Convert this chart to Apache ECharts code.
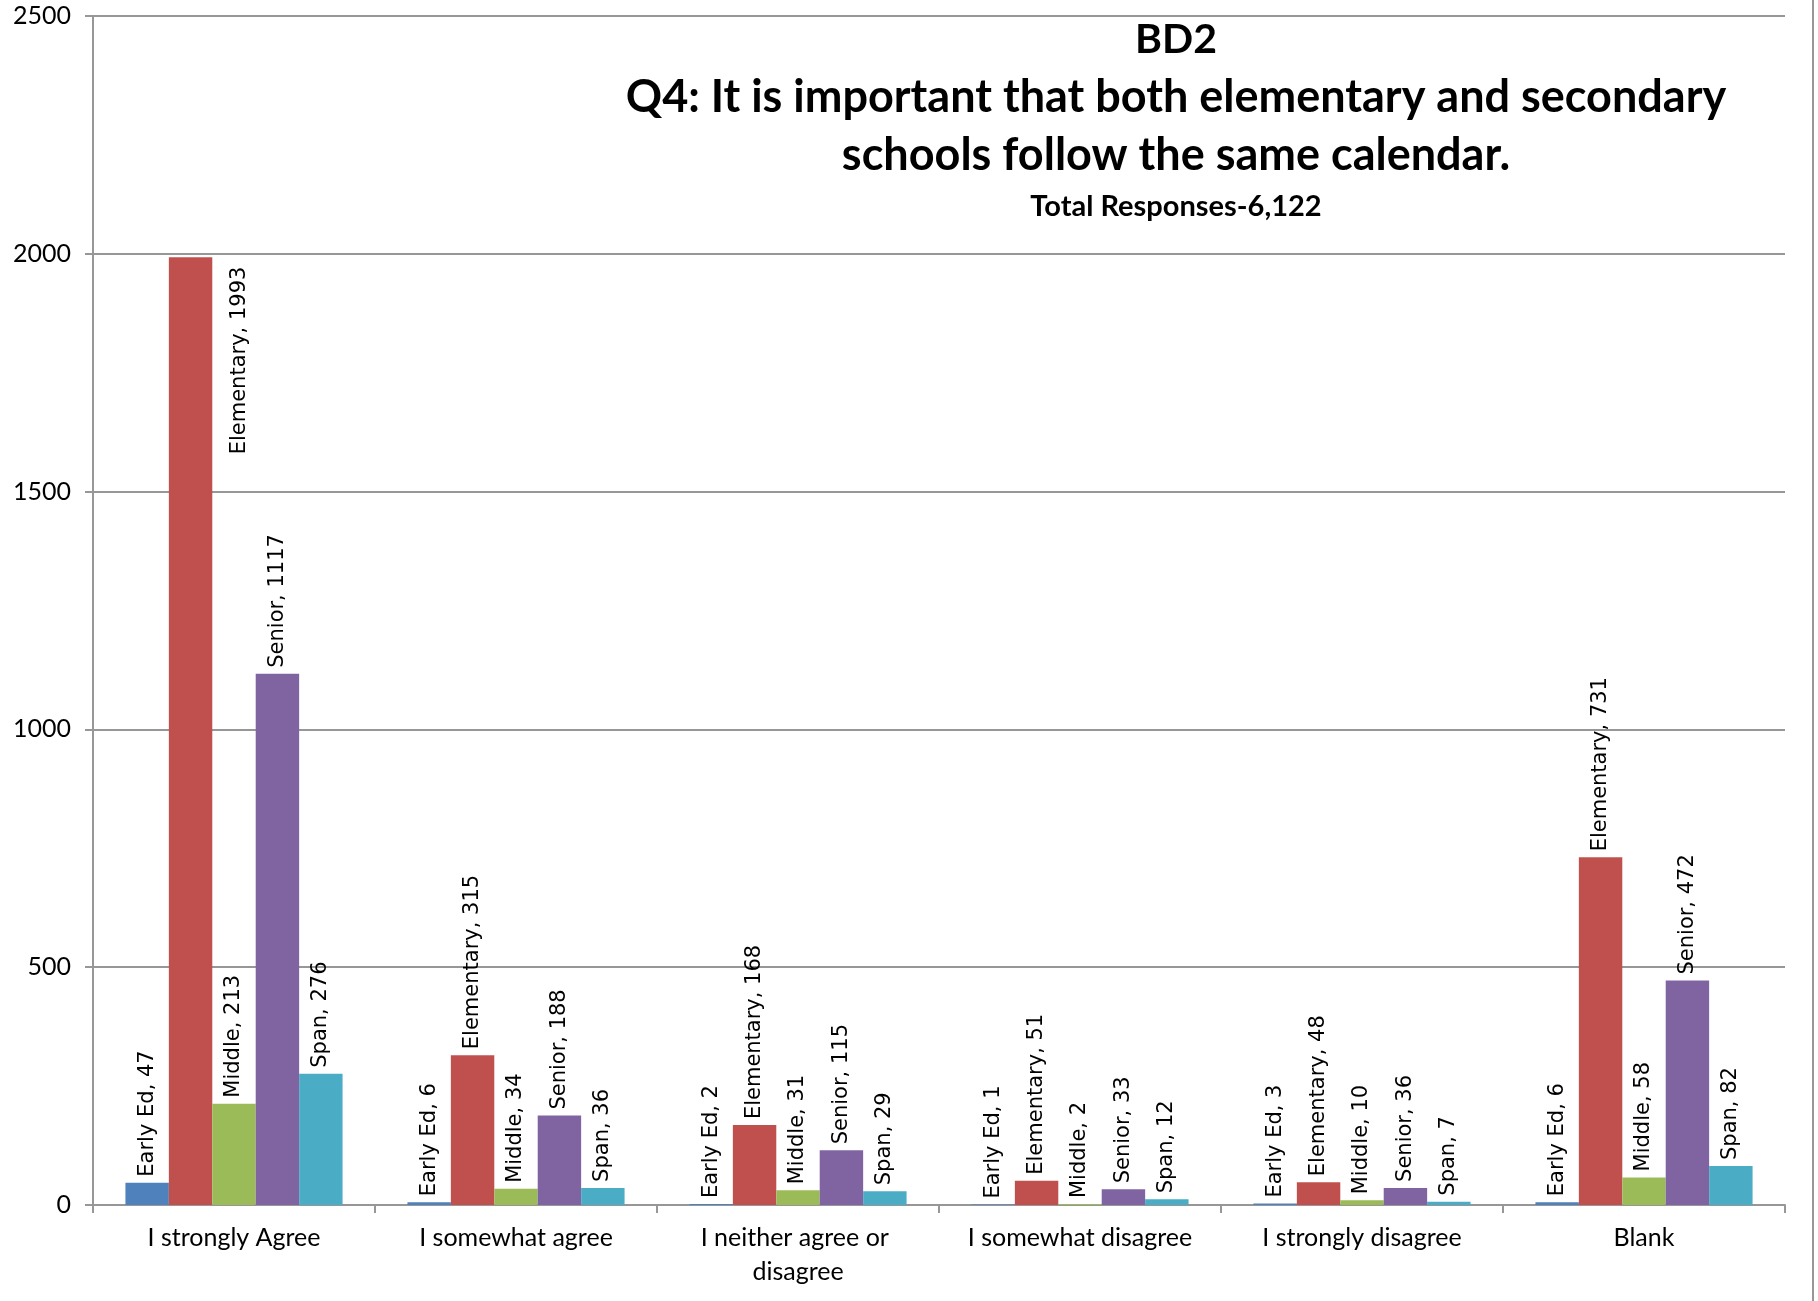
<!DOCTYPE html>
<html>
<head>
<meta charset="utf-8">
<script src="https://cdn.jsdelivr.net/npm/echarts@6/dist/echarts.min.js"></script>
<style>
html,body{margin:0;padding:0;background:#fff;}
#chart{width:1818px;height:1301px;}
</style>
</head>
<body>
<div id="chart"></div>
<script>
var categories = ['I strongly Agree', 'I somewhat agree', 'I neither agree or disagree', 'I somewhat disagree', 'I strongly disagree', 'Blank'];
var seriesNames = ['Early Ed', 'Elementary', 'Middle', 'Senior', 'Span'];
var earlyEd = [47, 6, 2, 1, 3, 6];
var elementary = [1993, 315, 168, 51, 48, 731];
var middle = [213, 34, 31, 2, 10, 58];
var senior = [1117, 188, 115, 33, 36, 472];
var span = [276, 36, 29, 12, 7, 82];
var colors = ['#4F81BD', '#C0504D', '#9BBB59', '#8064A2', '#4BACC6'];
var yTicks = [0, 500, 1000, 1500, 2000, 2500];
var titleLines = ['BD2', 'Q4: It is important that both elementary and secondary', 'schools follow the same calendar.'];
var subTitle = 'Total Responses-6,122';

var allValues = [earlyEd, elementary, middle, senior, span];
var gridCol = '#979797';
var calibri = 'Lato, "Open Sans", sans-serif';

var series = allValues.map(function (vals, si) {
  return {
    name: seriesNames[si],
    type: 'bar',
    barGap: '0%',
    barCategoryGap: '23%',
    itemStyle: { color: colors[si] },
    label: {
      show: true,
      position: 'top',
      distance: 6,
      rotate: 90,
      align: 'left',
      verticalAlign: 'middle',
      fontFamily: '"DejaVu Sans", Verdana, sans-serif',
      fontSize: 21,
      color: '#000',
      formatter: function (p) { return p.seriesName + ', ' + p.value; }
    },
    data: vals.map(function (v, i) {
      var item = { value: v };
      // label that Excel pushed beside the tallest bar
      if (si === 1 && i === 0) {
        item.label = { position: ['138%', '1%'], align: 'right', verticalAlign: 'top' };
      }
      return item;
    })
  };
});

var chart = echarts.init(document.getElementById('chart'));
chart.setOption({
  animation: false,
  backgroundColor: '#fff',
  title: [
    { text: titleLines[0], left: 1171, top: 14, textAlign: 'center',
      textStyle: { fontFamily: calibri, fontWeight: 'bold', fontSize: 41, color: '#000' } },
    { text: titleLines[1], left: 1171, top: 70, textAlign: 'center',
      textStyle: { fontFamily: calibri, fontWeight: 'bold', fontSize: 45, color: '#000' } },
    { text: titleLines[2], left: 1171, top: 128, textAlign: 'center',
      textStyle: { fontFamily: calibri, fontWeight: 'bold', fontSize: 45, color: '#000' } },
    { text: subTitle, left: 1171, top: 187, textAlign: 'center',
      textStyle: { fontFamily: calibri, fontWeight: 'bold', fontSize: 29, color: '#000' } }
  ],
  grid: { left: 93, right: 33, top: 16, bottom: 96, containLabel: false },
  xAxis: {
    type: 'category',
    data: categories,
    axisLine: { lineStyle: { color: gridCol, width: 2 } },
    axisTick: { show: true, length: 8, lineStyle: { color: gridCol, width: 2 } },
    axisLabel: {
      margin: 16,
      fontFamily: calibri,
      fontSize: 25,
      lineHeight: 34,
      color: '#000',
      width: 250,
      overflow: 'break',
      interval: 0
    }
  },
  yAxis: {
    type: 'value',
    min: yTicks[0],
    max: yTicks[yTicks.length - 1],
    interval: yTicks[1] - yTicks[0],
    axisLine: { show: true, lineStyle: { color: gridCol, width: 2 } },
    axisTick: { show: true, length: 8, lineStyle: { color: gridCol, width: 2 } },
    splitLine: { lineStyle: { color: gridCol, width: 2 } },
    axisLabel: { margin: 22, fontFamily: calibri, fontSize: 25, color: '#000',
      formatter: function (v) { return String(v); } }
  },
  graphic: [
    { type: 'line', shape: { x1: 1813, y1: 0, x2: 1813, y2: 1301 },
      style: { stroke: gridCol, lineWidth: 2 } }
  ],
  series: series
});
</script>
</body>
</html>
